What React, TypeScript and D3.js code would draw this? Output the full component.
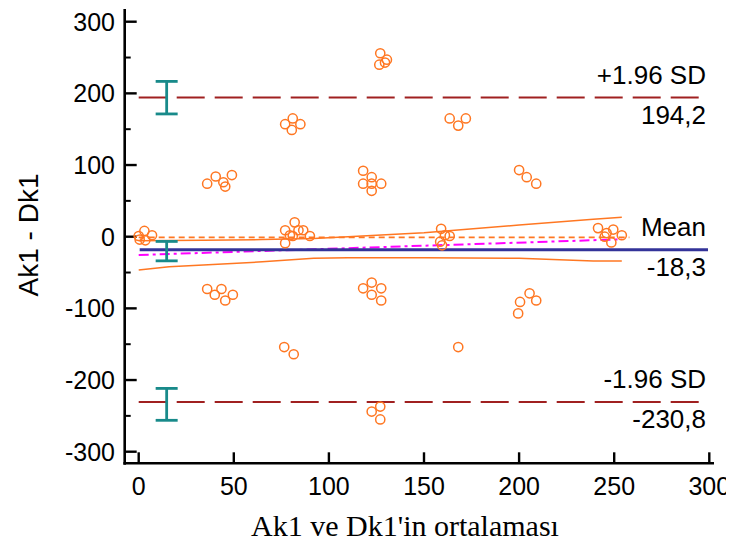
import { useEffect, useRef } from 'react';
import * as d3 from 'd3';

const width = 734;
const height = 551;

// averages (x) and differences (y) of Ak1 / Dk1
const meanVals = [
    0, 3, 3.5, 7, 0.5,
    36, 40.5, 44.5, 45.5, 49,
    36, 40, 43.5, 45.5, 49.5,
    77, 81, 85, 80.5,
    77, 82, 84, 79.5, 86.5, 90, 77, 81,
    76.5, 81.5,
    118, 122.5, 118, 122.5, 127.5, 122.5,
    118, 122.5, 127.5, 122.5, 127.5,
    127, 130.5, 126.5, 129.5,
    122.5, 127, 127,
    159, 161, 163.5, 158.5, 159.5,
    163.5, 172, 168,
    168,
    200, 204, 209,
    205.5, 209, 200.5, 199.5,
    241.5, 246, 249.5, 254, 248.5, 245,
];
const diffVals = [
    1, 8, -5, 2, -4,
    74, 84, 76, 70, 86,
    -73, -81, -73, -89, -81,
    157, 165, 157, 149,
    9, 20, 9, 2, 9, 1, -9, 1,
    -154, -164,
    92, 83, 74, 74, 74, 64,
    -72, -64, -72, -81, -89,
    256, 247, 240, 243,
    -244, -237, -255,
    11, 2, 1, -7, -12,
    165, 165, 155,
    -154,
    93, 83, 74,
    -79, -89, -91, -107,
    12, 5, 10, 2, -8, 0,
];

const meanDiff = -18.3;
const upperLoA = 194.2;
const lowerLoA = -230.8;

// confidence intervals drawn as error bars
const ciX = 14.7;
const ciMean = [-33.7, -6.6];
const ciUpper = [171.3, 216.7];
const ciLower = [-256.2, -211.7];

// regression line of differences and its confidence band
const regX = [0, 254];
const regY = [-25.5, -3.6];
const bandX = [0, 16, 34, 65, 92, 110, 150, 200, 239, 254];
const bandUpper = [-5.6, -5.4, -5, -4, -2.5, 0, 5.5, 16.3, 24.5, 27];
const bandLower = [-46.5, -42, -39.5, -35, -30.2, -29.3, -29.3, -30.2, -34, -34];

const xTicks = [0, 50, 100, 150, 200, 250, 300];
const yTicks = [-300, -200, -100, 0, 100, 200, 300];
const yMinorTicks = [-250, -150, -50, 50, 150, 250];

const sans = 'Arial, "Liberation Sans", sans-serif';

export default function App() {
    const ref = useRef<SVGSVGElement | null>(null);

    useEffect(() => {
        const svg = d3.select(ref.current);
        svg.selectAll('*').remove();

        const x = d3.scaleLinear().domain([0, 300]).range([138.7, 709.3]);
        const y = d3.scaleLinear().domain([-300, 300]).range([451.7, 21.7]);

        const axisX = 124.7;
        const axisY = 463.3;

        // axes
        svg.append('line')
            .attr('x1', axisX).attr('x2', axisX)
            .attr('y1', 9).attr('y2', axisY + 1.5)
            .attr('stroke', '#000').attr('stroke-width', 2.6);
        svg.append('line')
            .attr('x1', axisX - 1.3).attr('x2', 714)
            .attr('y1', axisY).attr('y2', axisY)
            .attr('stroke', '#000').attr('stroke-width', 2.6);

        svg.append('g')
            .selectAll('line')
            .data(yTicks)
            .join('line')
            .attr('x1', axisX).attr('x2', axisX + 12)
            .attr('y1', (d) => y(d)).attr('y2', (d) => y(d))
            .attr('stroke', '#000').attr('stroke-width', 2.4);
        svg.append('g')
            .selectAll('line')
            .data(yMinorTicks)
            .join('line')
            .attr('x1', axisX).attr('x2', axisX + 6)
            .attr('y1', (d) => y(d)).attr('y2', (d) => y(d))
            .attr('stroke', '#000').attr('stroke-width', 2);
        svg.append('g')
            .selectAll('line')
            .data(xTicks)
            .join('line')
            .attr('x1', (d) => x(d)).attr('x2', (d) => x(d))
            .attr('y1', axisY).attr('y2', axisY - 11)
            .attr('stroke', '#000').attr('stroke-width', 2.4);

        svg.append('g')
            .selectAll('text')
            .data(yTicks)
            .join('text')
            .attr('x', 115)
            .attr('y', (d) => y(d) + 8.8)
            .attr('text-anchor', 'end')
            .style('font-family', sans)
            .style('font-size', '25px')
            .text((d) => d);
        svg.append('g')
            .selectAll('text')
            .data(xTicks)
            .join('text')
            .attr('x', (d) => x(d))
            .attr('y', 495)
            .attr('text-anchor', 'middle')
            .style('font-family', sans)
            .style('font-size', '25px')
            .text((d) => d);

        // axis titles
        svg.append('text')
            .attr('transform', `translate(38, 235) rotate(-90)`)
            .attr('text-anchor', 'middle')
            .style('font-family', sans)
            .style('font-size', '28px')
            .text('Ak1 - Dk1');
        svg.append('text')
            .attr('x', 405)
            .attr('y', 536)
            .attr('text-anchor', 'middle')
            .style('font-family', '"Liberation Serif", "Times New Roman", serif')
            .style('font-size', '30px')
            .text("Ak1 ve Dk1'in ortalaması");

        // line of equality
        svg.append('line')
            .attr('x1', x(0)).attr('x2', x(258))
            .attr('y1', y(-1)).attr('y2', y(-1))
            .attr('stroke', '#ff7722').attr('stroke-width', 1.6)
            .attr('stroke-dasharray', '6,4');

        // regression confidence band
        const bandLine = d3.line<number>().x((d) => x(d));
        svg.append('path')
            .attr('d', bandLine.y((_d, i) => y(bandUpper[i]))(bandX))
            .attr('fill', 'none').attr('stroke', '#ff7722').attr('stroke-width', 1.5);
        svg.append('path')
            .attr('d', bandLine.y((_d, i) => y(bandLower[i]))(bandX))
            .attr('fill', 'none').attr('stroke', '#ff7722').attr('stroke-width', 1.5);

        // regression line
        svg.append('path')
            .attr('d', d3.line<number>().x((d) => x(d)).y((_d, i) => y(regY[i]))(regX))
            .attr('fill', 'none').attr('stroke', '#ff00ff').attr('stroke-width', 2)
            .attr('stroke-dasharray', '10,4,3,4');

        // mean line
        svg.append('line')
            .attr('x1', x(0) + 1).attr('x2', 708)
            .attr('y1', y(meanDiff)).attr('y2', y(meanDiff))
            .attr('stroke', '#333399').attr('stroke-width', 3);

        // limits of agreement
        svg.append('g')
            .selectAll('line')
            .data([upperLoA, lowerLoA])
            .join('line')
            .attr('x1', x(0)).attr('x2', 706)
            .attr('y1', (d) => y(d)).attr('y2', (d) => y(d))
            .attr('stroke', '#a02020').attr('stroke-width', 2)
            .attr('stroke-dasharray', '28,10');

        // confidence interval bars
        const bars = svg.append('g').attr('stroke', '#188a8a').attr('stroke-width', 2.8);
        [ciMean, ciUpper, ciLower].forEach(([lo, hi]) => {
            bars.append('line')
                .attr('x1', x(ciX)).attr('x2', x(ciX))
                .attr('y1', y(lo)).attr('y2', y(hi));
            [lo, hi].forEach((v) => {
                bars.append('line')
                    .attr('x1', x(ciX) - 11).attr('x2', x(ciX) + 11)
                    .attr('y1', y(v)).attr('y2', y(v));
            });
        });

        // data points
        svg.append('g')
            .selectAll('circle')
            .data(meanVals)
            .join('circle')
            .attr('cx', (d) => x(d))
            .attr('cy', (_d, i) => y(diffVals[i]))
            .attr('r', 4.6)
            .attr('fill', 'none')
            .attr('stroke', '#ff7722')
            .attr('stroke-width', 1.5);

        // labels of mean and limits
        const labels = [
            { top: '+1.96 SD', v: upperLoA },
            { top: 'Mean', v: meanDiff },
            { top: '-1.96 SD', v: lowerLoA },
        ];
        const lab = svg.append('g')
            .attr('text-anchor', 'end')
            .style('font-family', sans)
            .style('font-size', '26px');
        labels.forEach((l) => {
            lab.append('text').attr('x', 706).attr('y', y(l.v) - 14).text(l.top);
            lab.append('text').attr('x', 706).attr('y', y(l.v) + 26).text(l.v.toFixed(1).replace('.', ','));
        });
    }, []);

    return <svg ref={ref} width={width} height={height} style={{ display: 'block', margin: '-8px', background: '#fff' }} />;
}
